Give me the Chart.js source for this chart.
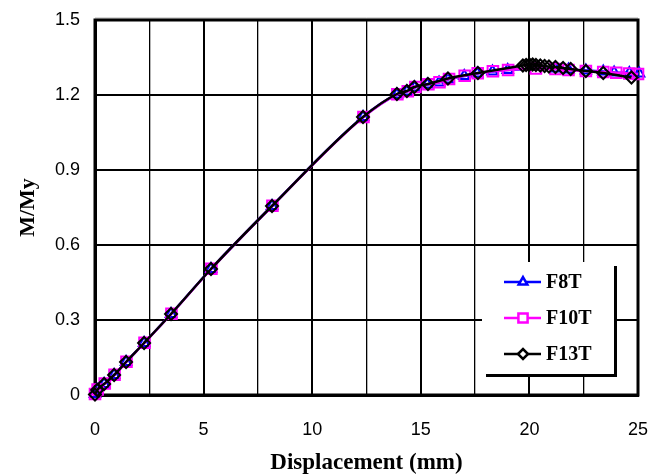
<!DOCTYPE html>
<html><head><meta charset="utf-8">
<script src="https://cdn.jsdelivr.net/npm/chart.js@4.4.0/dist/chart.umd.min.js"></script>
<style>html,body{margin:0;padding:0;background:#fff;}</style>
</head><body>
<canvas id="c" width="669" height="475"></canvas>
<script>
// ---- data ----
const seriesNames = ['F8T', 'F10T', 'F13T'];

const f8tX = [0, 0.1, 0.42, 0.88, 1.43, 2.26, 3.5, 5.34, 8.15, 12.34, 13.9, 14.36, 14.72, 15.3, 15.84, 16.25, 17.0, 17.6, 18.3, 19.0, 21.2, 21.8, 22.6, 23.4, 23.9, 24.6, 25.05];
const f8tY = [0.004, 0.02, 0.044, 0.08, 0.132, 0.208, 0.324, 0.504, 0.756, 1.112, 1.202, 1.214, 1.23, 1.242, 1.25, 1.262, 1.276, 1.286, 1.294, 1.300, 1.306, 1.302, 1.298, 1.294, 1.290, 1.288, 1.286];

const f10tX = [0, 0.12, 0.45, 0.9, 1.45, 2.28, 3.52, 5.36, 8.17, 12.36, 13.92, 14.4, 14.75, 15.35, 15.86, 16.3, 17.02, 17.62, 18.32, 19.02, 20.3, 21.2, 21.8, 22.6, 23.4, 24.0, 24.6, 25.0];
const f10tY = [0.004, 0.022, 0.046, 0.081, 0.133, 0.209, 0.325, 0.505, 0.757, 1.112, 1.203, 1.215, 1.232, 1.243, 1.251, 1.264, 1.277, 1.287, 1.295, 1.300, 1.306, 1.304, 1.300, 1.296, 1.292, 1.289, 1.286, 1.284];

const f13tX = [0, 0.1, 0.42, 0.88, 1.43, 2.26, 3.5, 5.34, 8.15, 12.34, 13.9, 14.36, 14.7, 15.33, 16.25, 17.63, 19.7, 19.85, 20.0, 20.15, 20.3, 20.5, 20.7, 20.9, 21.2, 21.55, 21.9, 22.6, 23.4, 24.7];
const f13tY = [0.002, 0.02, 0.044, 0.08, 0.132, 0.208, 0.324, 0.504, 0.756, 1.112, 1.204, 1.216, 1.232, 1.244, 1.266, 1.288, 1.318, 1.32, 1.322, 1.322, 1.32, 1.318, 1.316, 1.314, 1.312, 1.308, 1.304, 1.296, 1.288, 1.27];

const xTickValues = [0, 2.5, 5, 7.5, 10, 12.5, 15, 17.5, 20, 22.5, 25];
const xTickLabels = ['0', '', '5', '', '10', '', '15', '', '20', '', '25'];
const yTickValues = [0, 0.3, 0.6, 0.9, 1.2, 1.5];
const yTickLabels = ['0', '0.3', '0.6', '0.9', '1.2', '1.5'];

const xTitle = 'Displacement (mm)';
const yTitle = 'M/My';

// ---- build ----
function pts(xs, ys) { return xs.map((x, i) => ({ x: x, y: ys[i] })); }

const styles = [
  { color: '#0000ff', pointStyle: 'triangle', radius: 6, order: 2 },
  { color: '#ff00ff', pointStyle: 'rect', radius: 7.5, order: 1 },
  { color: '#000000', pointStyle: 'rectRot', radius: 6, order: 0 }
];
const seriesData = [pts(f8tX, f8tY), pts(f10tX, f10tY), pts(f13tX, f13tY)];

const datasets = seriesNames.map((name, i) => ({
  label: name,
  data: seriesData[i],
  showLine: true,
  borderColor: styles[i].color,
  borderWidth: 2.5,
  backgroundColor: 'rgba(0,0,0,0)',
  pointStyle: styles[i].pointStyle,
  pointRadius: styles[i].radius,
  pointBorderWidth: 2,
  pointBorderColor: styles[i].color,
  pointBackgroundColor: 'rgba(0,0,0,0)',
  cubicInterpolationMode: 'monotone',
  order: styles[i].order,
  clip: false
}));

const frame = {
  id: 'frame',
  beforeDatasetsDraw(chart) {
    const a = chart.chartArea, ctx = chart.ctx;
    ctx.save();
    ctx.strokeStyle = '#b0b0b0';
    ctx.lineWidth = 1;
    ctx.beginPath(); ctx.moveTo(a.left, a.top - 2); ctx.lineTo(a.right, a.top - 2); ctx.stroke();
    ctx.strokeStyle = '#000';
    ctx.lineWidth = 3;
    ctx.strokeRect(a.left, a.top, a.right - a.left, a.bottom - a.top);
    ctx.restore();
  },
  afterDraw(chart) {
    const a = chart.chartArea, ctx = chart.ctx;
    const r = a.right - 24, b = a.bottom - 21, l = r - 132, t = b - 112;
    ctx.save();
    ctx.fillStyle = '#fff';
    ctx.fillRect(l, t, r - l, b - t);
    ctx.fillStyle = '#000';
    ctx.fillRect(r, t + 4, 3, b - t - 1);
    ctx.fillRect(l + 4, b, r - l - 1, 3);
    chart.data.datasets.forEach((ds, i) => {
      const y = t + 20 + 36 * i;
      ctx.strokeStyle = ds.borderColor;
      ctx.lineWidth = 2.5;
      ctx.beginPath(); ctx.moveTo(l + 22, y); ctx.lineTo(l + 59, y); ctx.stroke();
      ctx.fillStyle = '#fff';
      ctx.strokeStyle = ds.borderColor;
      Chart.helpers.drawPoint(ctx, { pointStyle: ds.pointStyle, radius: ds.pointRadius - 1, borderWidth: 1.6, rotation: 0 }, l + 41, y);
      ctx.fillStyle = '#000';
      ctx.font = 'bold 20px "Liberation Serif"';
      ctx.textBaseline = 'middle';
      ctx.textAlign = 'left';
      ctx.fillText(ds.label, l + 64, y + 1);
    });
    ctx.restore();
  }
};

new Chart(document.getElementById('c'), {
  type: 'scatter',
  data: { datasets: datasets },
  plugins: [frame],
  options: {
    responsive: false,
    animation: false,
    devicePixelRatio: 1,
    layout: { padding: { top: 20, right: 31, left: 0, bottom: 0 } },
    plugins: { legend: { display: false }, tooltip: { enabled: false } },
    scales: {
      x: {
        type: 'linear', min: 0, max: 25,
        afterBuildTicks: s => { s.ticks = xTickValues.map(v => ({ value: v })); },
        afterFit: s => { s.height = 80; s.paddingLeft = 0; s.paddingRight = 0; },
        ticks: {
          autoSkip: false, maxRotation: 0, padding: 24, color: '#000',
          font: { family: 'Liberation Sans', size: 18 },
          callback: v => xTickLabels[xTickValues.indexOf(v)]
        },
        grid: { color: '#000', drawTicks: false, lineWidth: c => (c.tick && c.tick.value % 5 === 0) ? 2 : 1.3 },
        border: { display: true, color: '#000', width: 3 },
        title: { display: true, text: xTitle, color: '#000', font: { family: 'Liberation Serif', size: 23, weight: 'bold' }, padding: { top: 0, bottom: -2 } }
      },
      y: {
        type: 'linear', min: 0, max: 1.5,
        afterBuildTicks: s => { s.ticks = yTickValues.map(v => ({ value: v })); },
        afterFit: s => { s.width = 95; s.paddingTop = 0; s.paddingBottom = 0; },
        ticks: {
          autoSkip: false, padding: 15, color: '#000',
          font: { family: 'Liberation Sans', size: 18 },
          callback: v => yTickLabels[yTickValues.indexOf(v)]
        },
        grid: { color: '#000', drawTicks: false, lineWidth: 2 },
        border: { display: true, color: '#000', width: 3 },
        title: { display: true, text: yTitle, color: '#000', font: { family: 'Liberation Serif', size: 22, weight: 'bold' }, padding: { top: 15, bottom: 0 } }
      }
    }
  }
});
</script>
</body></html>
